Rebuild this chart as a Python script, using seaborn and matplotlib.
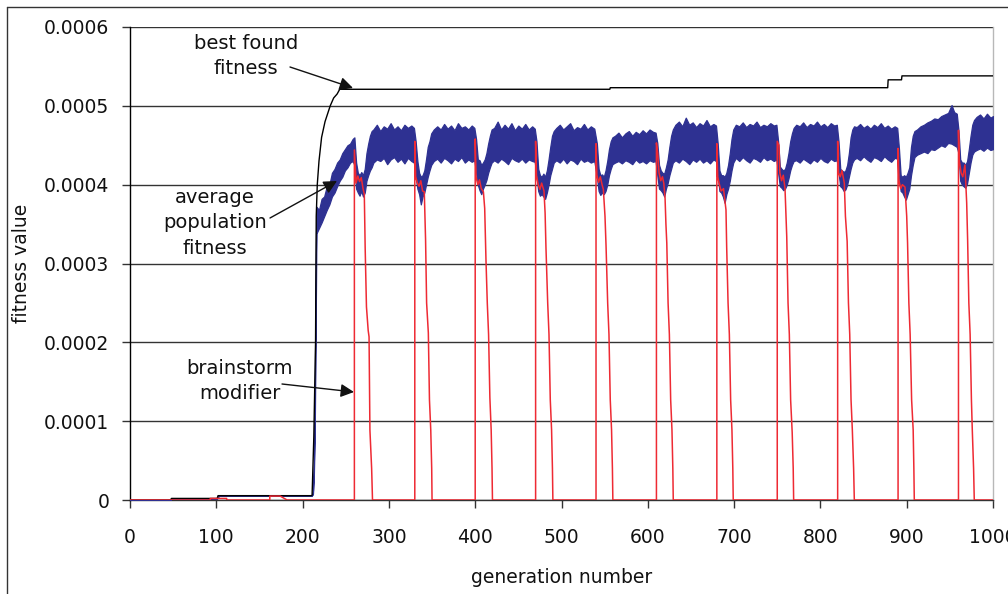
import numpy as np
import matplotlib
matplotlib.use("Agg")
import matplotlib.pyplot as plt
from matplotlib.lines import Line2D
import seaborn as sns

# ---------------- data (values in units of 1e-6) ----------------
SCALE = 1e-6

best_gen = [0, 47, 48, 101, 102, 210, 211, 213, 215, 215.8, 217, 219, 222, 226, 229, 232,
            236, 240, 243, 556, 556.5, 878, 878.5, 894, 894.5, 1000]
best_val = [0, 0, 2, 2, 5.5, 5.5, 6, 80, 200, 360, 400, 430, 460, 480, 490, 500,
            510, 515, 521, 521, 523, 523, 533, 533, 538, 538]

blue_gen = [0, 47, 48, 101, 103, 210, 211, 212, 213, 214, 215,
            216, 219, 222, 225, 228, 231, 234, 237, 240, 243, 246, 249, 252, 255, 258, 260,
            262, 264, 266, 268, 270, 272, 274, 276, 278, 280,
            282, 286, 290, 294, 298, 302, 306, 310, 314, 318, 322, 326, 329,
            331, 333, 335, 337, 339, 341, 343, 345, 347, 349,
            352, 356, 360, 364, 368, 372, 376, 380, 384, 388, 392, 396, 399,
            401, 403, 405, 407, 409, 411, 413, 415, 417, 419,
            422, 426, 430, 434, 438, 442, 446, 450, 454, 458, 462, 466, 469,
            471, 473, 475, 477, 479, 481, 483, 485, 487, 489, 491,
            494, 498, 502, 506, 510, 514, 518, 522, 526, 530, 534, 538,
            541, 543, 545, 547, 549, 551, 553, 555, 557, 559,
            562, 566, 570, 574, 578, 582, 586, 590, 594, 598, 602, 606, 609,
            611, 613, 615, 617, 619, 621, 623, 625, 627, 629,
            632, 636, 640, 644, 648, 652, 656, 660, 664, 668, 672, 676, 679,
            681, 683, 685, 687, 689, 691, 693, 695, 697, 699,
            702, 706, 710, 714, 718, 722, 726, 730, 734, 738, 742, 746, 749,
            751, 753, 755, 757, 759, 761, 763, 765, 767, 769,
            772, 776, 780, 784, 788, 792, 796, 800, 804, 808, 812, 816, 819,
            821, 823, 825, 827, 829, 831, 833, 835, 837, 839,
            842, 846, 850, 854, 858, 862, 866, 870, 874, 878, 882, 886, 889,
            891, 893, 895, 897, 899, 901, 903, 905, 907, 909,
            912, 916, 920, 924, 928, 932, 936, 940, 944, 948, 952, 955, 958,
            960, 962, 964, 966, 968, 970, 972, 974, 976, 978,
            981, 985, 989, 993, 997, 1000]
blue_lo = [0, 0, 2, 2, 5.5, 5.5, 6, 8, 30, 80, 200,
           338, 345, 352, 360, 368, 375, 385, 390, 398, 405, 410, 418, 422, 428, 430, 425,
           395, 390, 386, 392, 385, 390, 405, 412, 418, 422,
           428, 432, 430, 434, 426, 432, 435, 429, 433, 427, 434, 430, 428,
           410, 395, 388, 375, 385, 390, 400, 410, 418, 425,
           430, 433, 428, 434, 431, 427, 433, 430, 435, 428, 432, 429, 431,
           415, 400, 393, 388, 395, 400, 406, 415, 422, 428,
           431, 428, 433, 430, 426, 434, 431, 429, 433, 428, 432, 430, 429,
           412, 392, 386, 388, 385, 382, 390, 400, 412, 420, 428,
           431, 428, 433, 427, 432, 430, 426, 433, 429, 431, 428, 430,
           410, 392, 387, 390, 388, 392, 400, 412, 420, 426,
           428, 430, 427, 431, 429, 426, 432, 428, 430, 427, 431, 429, 430,
           412, 395, 393, 390, 385, 395, 402, 412, 420, 428,
           431, 428, 433, 430, 426, 432, 429, 433, 428, 431, 427, 432, 430,
           412, 392, 390, 385, 377, 388, 395, 405, 418, 428,
           434, 430, 435, 431, 428, 434, 432, 429, 435, 431, 433, 430, 432,
           415, 398, 396, 393, 395, 400, 408, 418, 425, 430,
           431, 428, 433, 430, 427, 432, 429, 434, 430, 428, 433, 430, 431,
           415, 398, 396, 392, 394, 400, 410, 420, 428, 432,
           434, 431, 436, 432, 429, 435, 433, 430, 436, 432, 429, 434, 433,
           410, 392, 390, 385, 381, 388, 395, 412, 425, 435,
           438, 440, 442, 440, 445, 444, 447, 450, 448, 453, 452, 450, 448,
           440, 405, 400, 398, 396, 402, 415, 428, 438, 442,
           444, 446, 443, 447, 444, 445]
blue_hi = [0, 0, 2, 2, 5.5, 5.5, 6, 12, 45, 110, 280,
           372, 368, 382, 385, 398, 400, 415, 420, 428, 432, 440, 445, 450, 452, 458, 460,
           428, 415, 412, 416, 412, 420, 440, 452, 462, 468,
           470, 476, 468, 474, 471, 478, 470, 474, 469, 476, 472, 475, 472,
           455, 430, 415, 410, 412, 418, 432, 448, 455, 465,
           470, 474, 470, 477, 471, 475, 469, 478, 472, 474, 470, 475, 472,
           458, 432, 431, 425, 428, 432, 440, 452, 462, 470,
           472, 480, 470, 476, 471, 478, 469, 475, 471, 477, 470, 474, 471,
           455, 420, 412, 410, 414, 410, 418, 432, 448, 462, 468,
           472, 476, 470, 474, 478, 469, 473, 471, 477, 470, 474, 471,
           452, 420, 412, 413, 410, 418, 430, 445, 455, 460,
           462, 466, 460, 465, 468, 462, 467, 464, 469, 465, 470, 467, 466,
           453, 425, 418, 415, 414, 422, 432, 448, 462, 470,
           476, 480, 474, 485, 476, 479, 473, 478, 475, 482, 474, 477, 475,
           452, 418, 412, 412, 410, 415, 425, 440, 458, 470,
           476, 474, 479, 473, 477, 475, 480, 473, 476, 474, 478, 475, 476,
           455, 423, 420, 418, 420, 428, 440, 455, 465, 472,
           476, 474, 479, 473, 477, 475, 480, 474, 477, 473, 478, 475, 476,
           455, 420, 418, 416, 418, 425, 440, 460, 470, 474,
           473, 477, 472, 475, 471, 476, 473, 478, 472, 475, 471, 474, 472,
           446, 412, 410, 412, 410, 415, 422, 448, 462, 468,
           470, 474, 476, 479, 481, 484, 483, 487, 489, 491, 501, 492, 490,
           469, 432, 428, 428, 425, 430, 445, 462, 476, 482,
           486, 489, 484, 490, 485, 487]

red_gen = [0, 93, 93, 112, 112, 162, 162, 174, 182,
           260, 260, 262, 264, 266, 268, 270, 271.5, 272.5, 274, 276, 277, 278, 280, 281,
           330, 330, 331, 333, 335, 337, 339, 341, 342.5, 343.7, 345.7, 347, 348.5, 349.6, 350,
           400, 400, 401, 403, 405, 407, 409.5, 411, 412.5, 414, 415.5, 417, 418.5, 419.5, 420,
           470, 470, 471, 473, 475, 477, 479.7, 481, 482, 484, 485.5, 487, 488.5, 489.5, 490,
           540, 540, 541, 543, 545, 547, 548.5, 550.4, 551.6, 553.5, 555, 556.5, 558, 559, 559.5,
           610, 610, 611.5, 613, 615, 617, 618.5, 620, 621, 622, 623.5, 625, 626.5, 628, 629, 629.5,
           680, 680, 681, 683, 685, 687.7, 690.6, 691.4, 693, 694.5, 696, 697.5, 698.5, 699,
           750, 750, 752, 753, 755, 757, 759, 760, 761, 762.5, 764, 765.5, 767.3, 768.5, 769,
           820, 820, 821, 823, 825, 827.7, 829, 831, 832.5, 834, 835.5, 837, 838.5, 839.3,
           890, 890, 891, 893, 895, 898, 900, 901, 902.5, 904, 905.7, 907.5, 908.3, 908.8,
           960, 960, 961, 963, 965, 967.5, 969.5, 970.6, 972, 973.5, 975, 976, 977.5, 978.3,
           1000]
red_val = [0, 0, 2, 2, 0, 0, 5, 5, 0,
           0, 444, 402, 411, 404, 409, 395, 388, 320, 245, 215, 207, 89, 40, 0,
           0, 455, 410, 402, 398, 405, 392, 391, 330, 250, 212, 127, 89, 40, 0,
           0, 458, 410, 400, 406, 395, 391, 370, 304, 250, 210, 130, 89, 40, 0,
           0, 455, 412, 400, 394, 402, 392, 364, 320, 250, 210, 127, 89, 40, 0,
           0, 452, 412, 403, 410, 400, 394, 360, 323, 250, 210, 127, 89, 40, 0,
           0, 453, 440, 415, 405, 410, 402, 383, 350, 326, 250, 210, 127, 89, 40, 0,
           0, 452, 410, 400, 392, 395, 368, 321, 250, 210, 127, 89, 40, 0,
           0, 455, 450, 415, 405, 412, 395, 364, 334, 250, 210, 127, 86, 40, 0,
           0, 455, 415, 410, 418, 402, 360, 328, 250, 210, 127, 89, 40, 0,
           0, 446, 405, 395, 400, 397, 360, 326, 250, 210, 127, 89, 40, 0,
           0, 469, 430, 415, 410, 425, 377, 330, 250, 210, 127, 89, 40, 0,
           0]

y_ticks = [0, 0.0001, 0.0002, 0.0003, 0.0004, 0.0005, 0.0006]
y_tick_labels = ["0", "0.0001", "0.0002", "0.0003", "0.0004", "0.0005", "0.0006"]
x_ticks = [0, 100, 200, 300, 400, 500, 600, 700, 800, 900, 1000]

BLUE = "#2e3192"
RED = "#ee2a33"

# ---------------- figure ----------------
sns.set_theme(style="white")
plt.rcParams["font.family"] = ["DejaVu Sans"]

W, H = 1008, 594
fig = plt.figure(figsize=(W / 100, H / 100), dpi=100)
ax = fig.add_axes([130 / W, 1 - 500 / H, (993 - 130) / W, (500 - 27) / H])

bg = np.array(blue_gen, dtype=float)
ax.fill_between(bg, np.array(blue_lo) * SCALE, np.array(blue_hi) * SCALE,
                color=BLUE, edgecolor=BLUE, linewidth=0.9, zorder=3)

sns.lineplot(x=np.array(best_gen, dtype=float), y=np.array(best_val) * SCALE, ax=ax,
             color="black", linewidth=1.0, estimator=None, sort=False, zorder=4)
sns.lineplot(x=np.array(red_gen, dtype=float), y=np.array(red_val) * SCALE, ax=ax,
             color=RED, linewidth=1.1, estimator=None, sort=False, zorder=5)

ax.set_xlim(0, 1000)
ax.set_ylim(0, 0.0006)
ax.set_xticks(x_ticks)
ax.set_xticklabels([str(t) for t in x_ticks])
ax.set_yticks(y_ticks)
ax.set_yticklabels(y_tick_labels)

ax.yaxis.grid(True, color="#333333", linewidth=1.0, zorder=1)
ax.xaxis.grid(False)
ax.set_axisbelow(True)

for s in ["top"]:
    ax.spines[s].set_visible(False)
ax.spines["right"].set_color("#b8b8b8")
ax.spines["left"].set_color("black")
ax.spines["bottom"].set_color("#333333")
for s in ["left", "bottom", "right"]:
    ax.spines[s].set_linewidth(1.0)

ax.tick_params(axis="x", bottom=True, direction="out", length=6, width=1,
               color="#333333", labelsize=13.5, pad=14, labelcolor="#111111")
ax.tick_params(axis="y", left=True, direction="out", length=6, width=1,
               color="#333333", labelsize=13.5, pad=9, labelcolor="#111111")

ax.set_xlabel("generation number", fontsize=13.5, labelpad=15, color="#111111")
ax.set_ylabel("fitness value", fontsize=13.5, labelpad=9, color="#111111")

# annotations (text labels with arrows)
def fpx(x, y):
    return (x, H - y)

fs = 14
fig.text(246 / W, 1 - 56 / H, "best found\nfitness", ha="center", va="center",
         fontsize=fs, linespacing=1.45, color="#111111")
fig.text(215 / W, 1 - 223 / H, "average\npopulation\nfitness", ha="center", va="center",
         fontsize=fs, linespacing=1.45, color="#111111")
fig.text(240 / W, 1 - 381 / H, "brainstorm\nmodifier", ha="center", va="center",
         fontsize=fs, linespacing=1.45, color="#111111")

arrow = dict(arrowstyle="-|>", color="#111111", lw=1.0, mutation_scale=20,
             shrinkA=0, shrinkB=0)
for start, tip in [((290, 67), (353, 88)),
                   ((270, 218), (337, 181)),
                   ((282, 384), (354, 392))]:
    ann = ax.annotate("", xy=fpx(*tip), xycoords="figure pixels",
                      xytext=fpx(*start), textcoords="figure pixels",
                      arrowprops=arrow, annotation_clip=False, zorder=10)

# outer frame lines (left and top)
fig.add_artist(Line2D([7 / W, 7 / W], [0, 1 - 7 / H], color="#333333", lw=1.0))
fig.add_artist(Line2D([7 / W, 1], [1 - 7 / H, 1 - 7 / H], color="#333333", lw=1.0))

fig.savefig("out.png", dpi=100)
